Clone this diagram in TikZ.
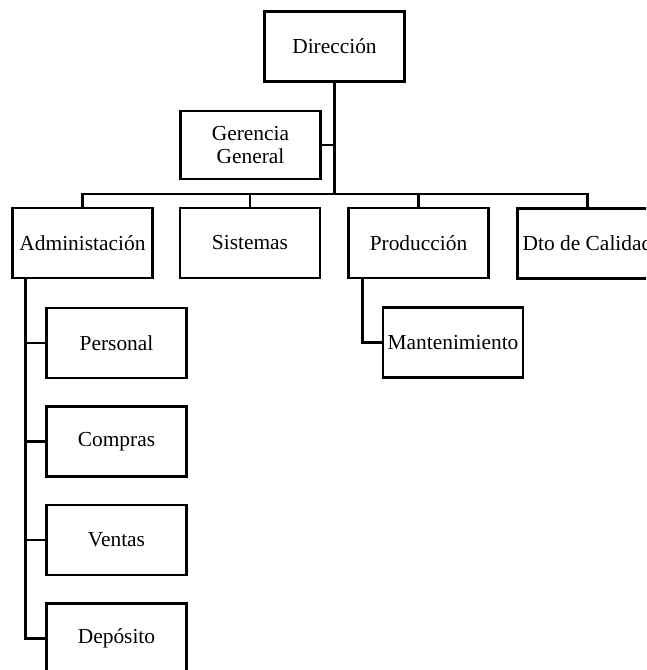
\documentclass[tikz,border=0pt]{standalone}
\usepackage{fontspec}
\setmainfont{Liberation Serif}
\usepackage{tikz}
\usetikzlibrary{positioning}
\usetikzlibrary{calc}

\begin{document}
\begin{tikzpicture}[x=1pt,y=-1pt,line width=2.3pt,
    area/.style={draw,minimum width=140pt,minimum height=70pt,inner sep=0pt,
      align=center,font=\fontsize{21.4}{23.5}\selectfont}]
   \useasboundingbox (0,0) rectangle (646,670);
   \clip (0,0) rectangle (646,670);
   %
   \node[area] (dir) at (334.5,46.5) {Dirección};
   \node[area,minimum height=68pt] (ger) at (250.5,145) {Gerencia\\General};
   \node[area] (adm) at (82.5,243) {Administación};
   \node[area] (sis) at (250,243) {Sistemas};
   \node[area] (prod) at (418.5,243) {Producción};
   \node[area] (cal) at (587.5,243.5) {Dto de Calidad};
   \node[area] (mant) at (453,342.5) {Mantenimiento};
   \node[area] (pers) at (116.5,343) {Personal};
   \node[area] (comp) at (116.5,441.5) {Compras};
   \node[area] (vent) at (116.5,540) {Ventas};
   \node[area] (dep) at (116.5,638.5) {Depósito};
   %
   \coordinate (bus) at (334.5,194);
   \draw (dir) -- (bus);
   \draw (ger.east) -- (ger.east -| dir.south);
   \draw (adm.north) |- (bus) -| (cal.north);
   \draw (sis.north) -- (sis.north |- bus);
   \draw (prod.north) -- (prod.north |- bus);
   %
   \coordinate (admt) at ([xshift=14pt]adm.south west);
   \draw (admt) |- (dep.west);
   \draw (pers.west) -- (pers.west -| admt);
   \draw (comp.west) -- (comp.west -| admt);
   \draw (vent.west) -- (vent.west -| admt);
   \draw ([xshift=15pt]prod.south west) |- (mant.west);
   %
\end{tikzpicture}
\end{document}
